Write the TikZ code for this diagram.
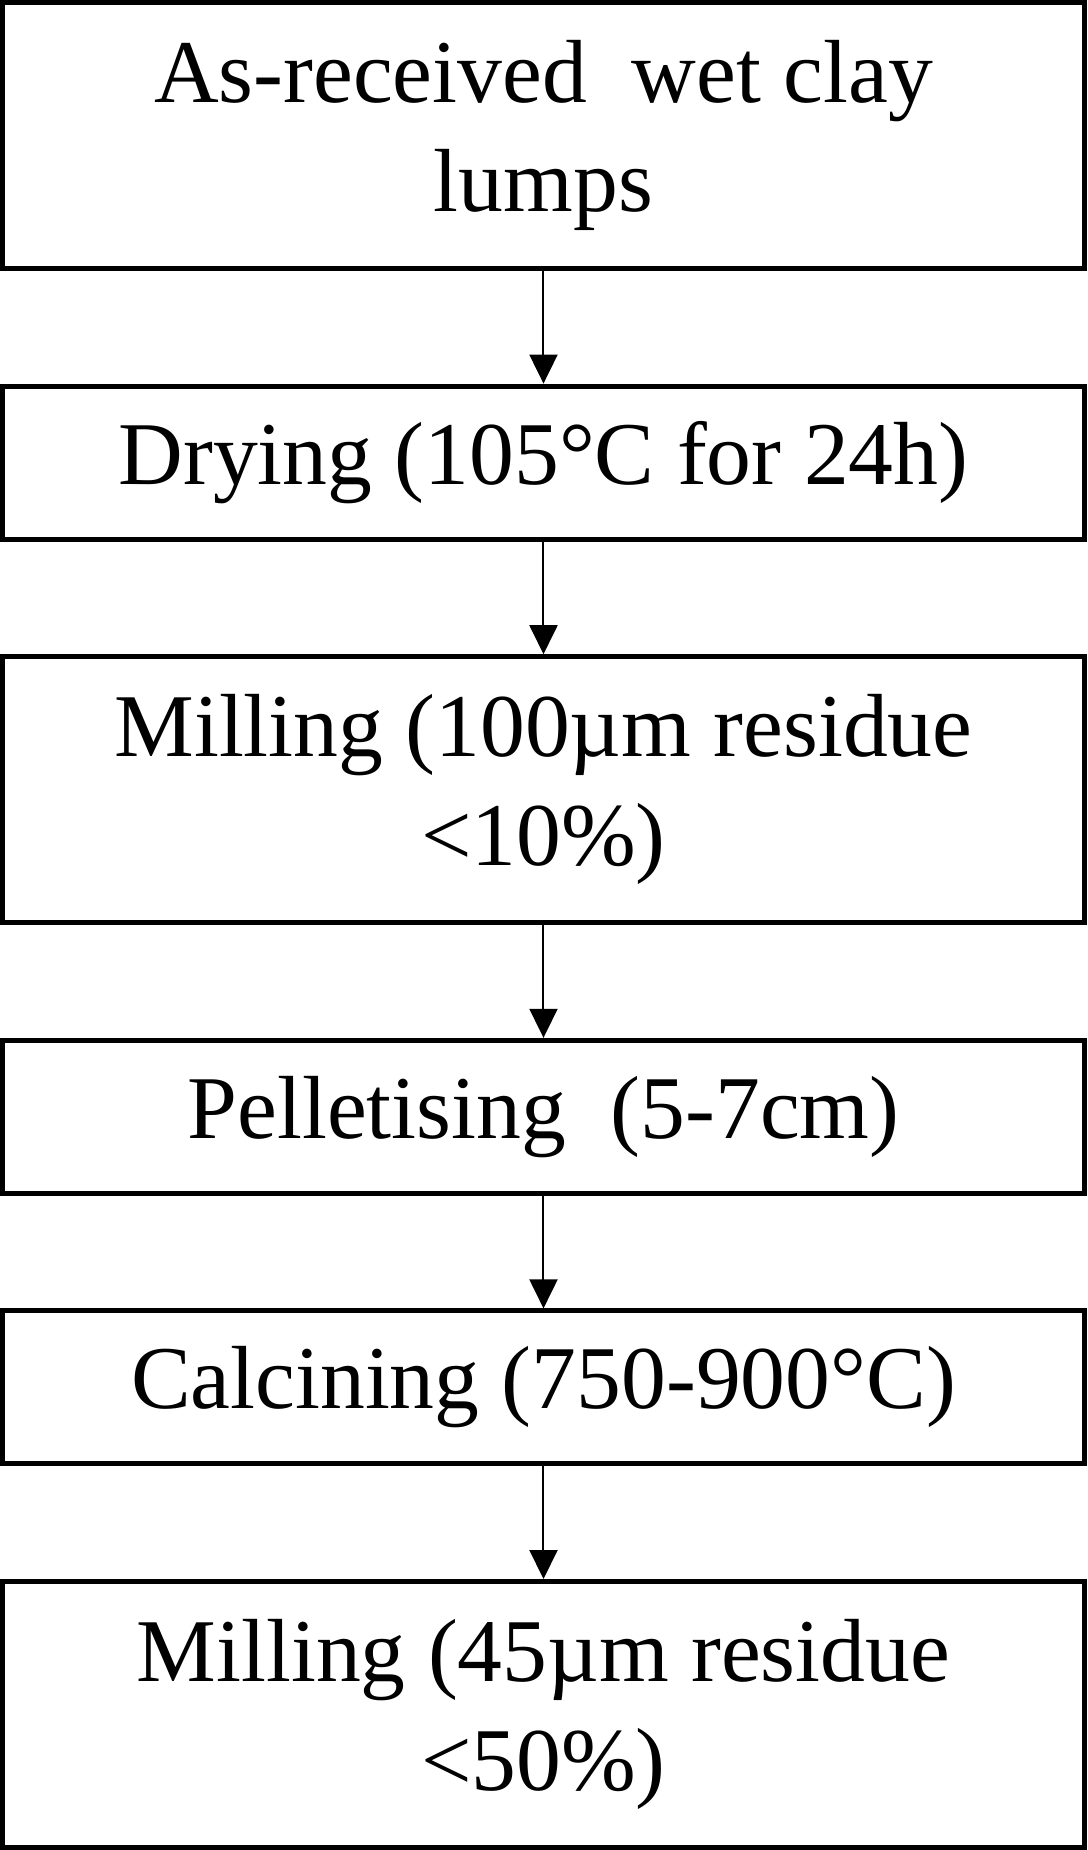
\documentclass[tikz,border=0pt]{standalone}
\usepackage{fontspec}
\setmainfont{Liberation Serif}
\usepackage{tikz}
\usetikzlibrary{arrows.meta,shapes,positioning}
\tikzstyle{stage} = [rectangle, minimum width=108.2mm, minimum height=15.3mm, text centered, align=center, draw=black, line width=0.5mm, font=\fontsize{25.5pt}{31pt}\selectfont]
\tikzstyle{tallstage} = [stage, minimum height=26.6mm]
\tikzstyle{arrow} = [line width=0.2mm, -{Triangle[width=2.8mm,length=2.9mm]}, color=black]

\begin{document}
\begin{tikzpicture}[node distance=11.26mm]
% Process steps
\node[tallstage] (wet) {As-received\ \ wet clay\\lumps};
\node[stage, below=of wet] (dry) {Drying (105°C for 24h)};
\node[tallstage, below=of dry] (mill1) {Milling (100µm residue\\<10\%)};
\node[stage, below=of mill1] (pellet) {Pelletising\ \ (5-7cm)};
\node[stage, below=of pellet] (calc) {Calcining (750-900°C)};
\node[tallstage, below=of calc] (mill2) {Milling (45µm residue\\<50\%)};

\draw[arrow] (wet.south) -- (dry.north);
\draw[arrow] (dry.south) -- (mill1.north);
\draw[arrow] (mill1.south) -- (pellet.north);
\draw[arrow] (pellet.south) -- (calc.north);
\draw[arrow] (calc.south) -- (mill2.north);
\end{tikzpicture}
\end{document}
